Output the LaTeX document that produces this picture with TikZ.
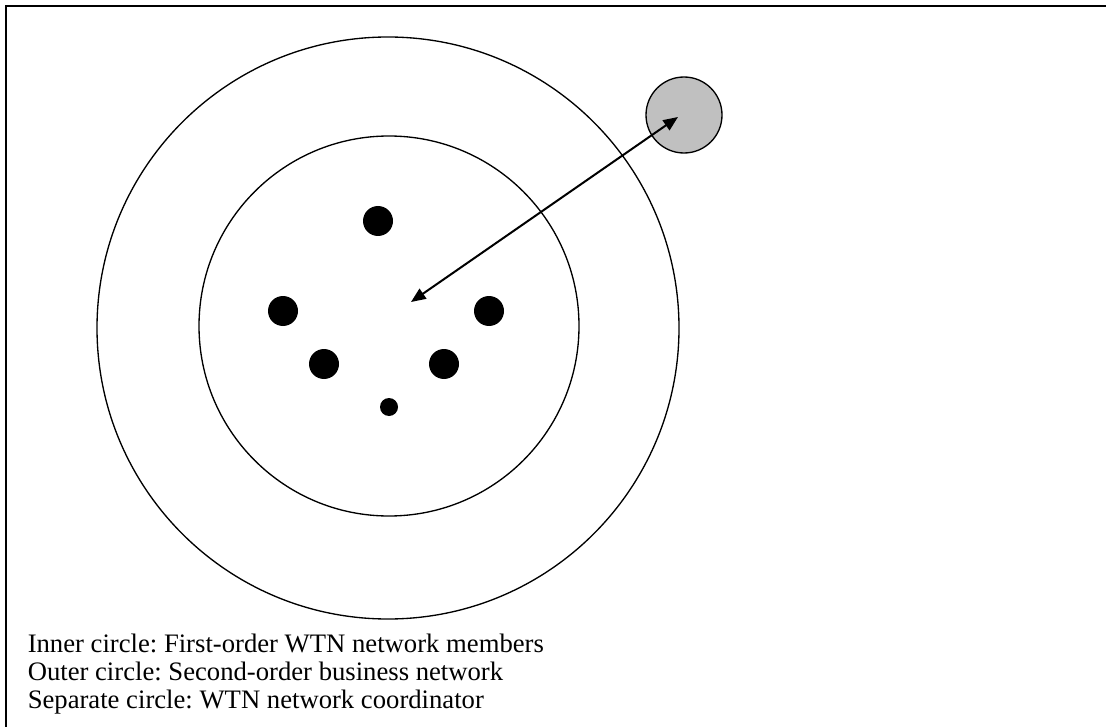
\documentclass[tikz,border=0pt]{standalone}
\usepackage{fontspec}
\setmainfont{Liberation Serif}
\usetikzlibrary{arrows.meta}
\frenchspacing
\begin{document}
\begin{tikzpicture}[x=0.75pt,y=-0.75pt,
		member/.style={circle,fill=black,inner sep=0pt,minimum size=22.5pt},
		legendline/.style={anchor=base west,inner sep=0pt,font=\fontsize{20}{24}\selectfont}]
		\definecolor{coordgray}{RGB}{192,192,192}
		\clip (0,0) rectangle (1106,727);
		\draw[line width=1.5pt] (6,6) rectangle (1130,750);
		\draw[line width=1pt] (388,328) circle[radius=218.25pt];
		\draw[line width=1pt] (389,326) circle[radius=142.5pt];
		\node[member] (m1) at (378,221) {};
		\node[member] (m2) at (283,311) {};
		\node[member] (m3) at (489,311) {};
		\node[member] (m4) at (324,364) {};
		\node[member] (m5) at (444,364) {};
		\node[member,minimum size=13.5pt] (m6) at (389,407) {};
		\node[circle,draw,line width=1pt,fill=coordgray,minimum size=57pt,inner sep=0pt] (coord) at (684,115) {};
		\coordinate (hub) at (411,302);
		\coordinate (coordtip) at (678,117);
		\draw[line width=1.5pt,{Triangle[length=11pt,width=9pt]}-{Triangle[length=11pt,width=9pt]}] (hub)--(coordtip);
		\node[legendline] (l1) at (27.5,652) {Inner circle: First-order WTN network members};
		\node[legendline] (l2) at (27.5,680) {Outer circle: Second-order business network};
		\node[legendline] (l3) at (27.5,708) {Separate circle: WTN network coordinator};
	\end{tikzpicture}
\end{document}
